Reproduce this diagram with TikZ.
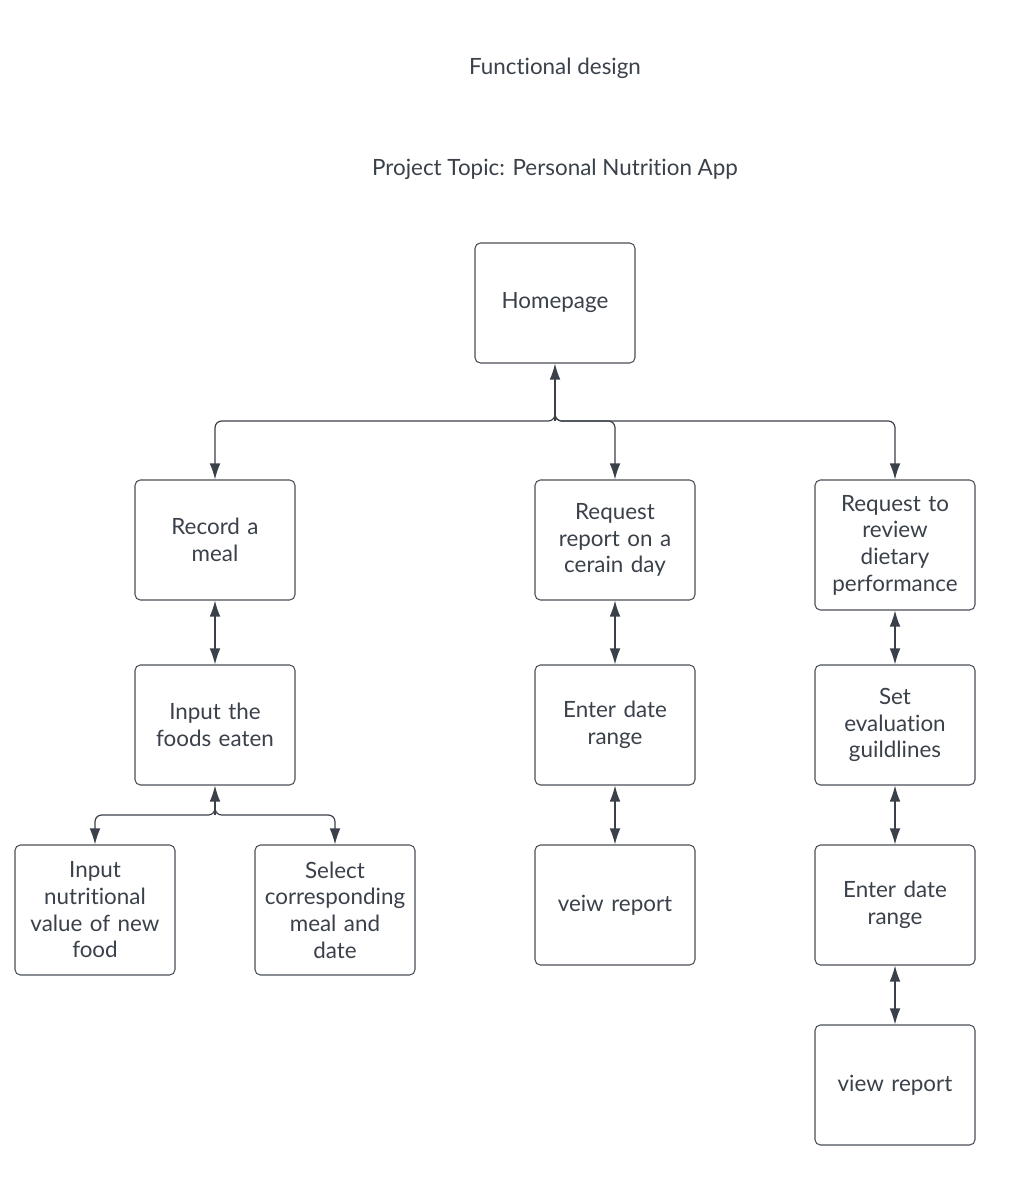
\documentclass[tikz,border=0pt]{standalone}
\usepackage{fontspec}
\setmainfont{Lato}[Ligatures={NoCommon}]
\usepackage{tikz}
\usetikzlibrary{arrows.meta}
\definecolor{ink}{HTML}{3A414A}
\definecolor{edge}{HTML}{4A5058}
\tikzset{
  box/.style={draw=edge, line width=0.8pt, rounded corners=4pt, fill=white,
    minimum width=120pt, minimum height=90pt, text width=110pt, align=center,
    font=\fontsize{16.8}{20}\selectfont, text=ink, inner sep=0pt},
  tallbox/.style={box, minimum height=97.5pt},
  link/.style={draw=ink, line width=0.9pt, rounded corners=5pt}
}
\begin{document}
\begin{tikzpicture}[x=0.75pt, y=-0.75pt, >={Latex[length=12pt,width=8pt]}]
  \useasboundingbox (0,0) rectangle (1015,1184);
  \node[text=ink, font=\fontsize{16.8}{20}\selectfont] (title) at (555,68) {Functional design};
  \node[text=ink, font=\fontsize{16.8}{20}\selectfont] (topic) at (555,169) {Project Topic: Personal Nutrition App};

  \node[box] (home) at (555,303) {Homepage};
  \node[box] (rec) at (215,540) {Record a\\meal};
  \node[box] (req) at (615,540) {Request\\report on a\\cerain day};
  \node[tallbox] (rev) at (895,545) {Request to\\review\\dietary\\performance};
  \node[box] (foods) at (215,725) {Input the\\foods eaten};
  \node[box] (range) at (615,725) {Enter date\\range};
  \node[box] (eval) at (895,725) {Set\\evaluation\\guildlines};
  \node[tallbox] (newfood) at (95,910) {Input\\nutritional\\value of new\\food};
  \node[tallbox] (sel) at (335,910) {Select\\corresponding\\meal and\\date};
  \node[box] (veiw) at (615,905) {veiw report};
  \node[box] (range2) at (895,905) {Enter date\\range};
  \node[box] (view) at (895,1085) {view report};

  % homepage branches
  \coordinate (hj) at (555,421);
  \coordinate (ht) at (555,400);
  \draw[link,->] (hj) -- (home);
  \draw[link,->] (ht) -- (hj) -| (rec.north);
  \draw[link,->] (ht) -- (hj) -| (req.north);
  \draw[link,->] (ht) -- (hj) -| (rev.north);

  \draw[link,<->] (rec) -- (foods);
  \draw[link,<->] (req) -- (range);
  \draw[link,<->] (range) -- (veiw);
  \draw[link,<->] (rev) -- (eval);
  \draw[link,<->] (eval) -- (range2);
  \draw[link,<->] (range2) -- (view);

  % food branches
  \coordinate (fj) at (215,815);
  \coordinate (ft) at (215,800);
  \draw[link,->] (fj) -- (foods);
  \draw[link,->] (ft) -- (fj) -| (newfood.north);
  \draw[link,->] (ft) -- (fj) -| (sel.north);
\end{tikzpicture}
\end{document}
